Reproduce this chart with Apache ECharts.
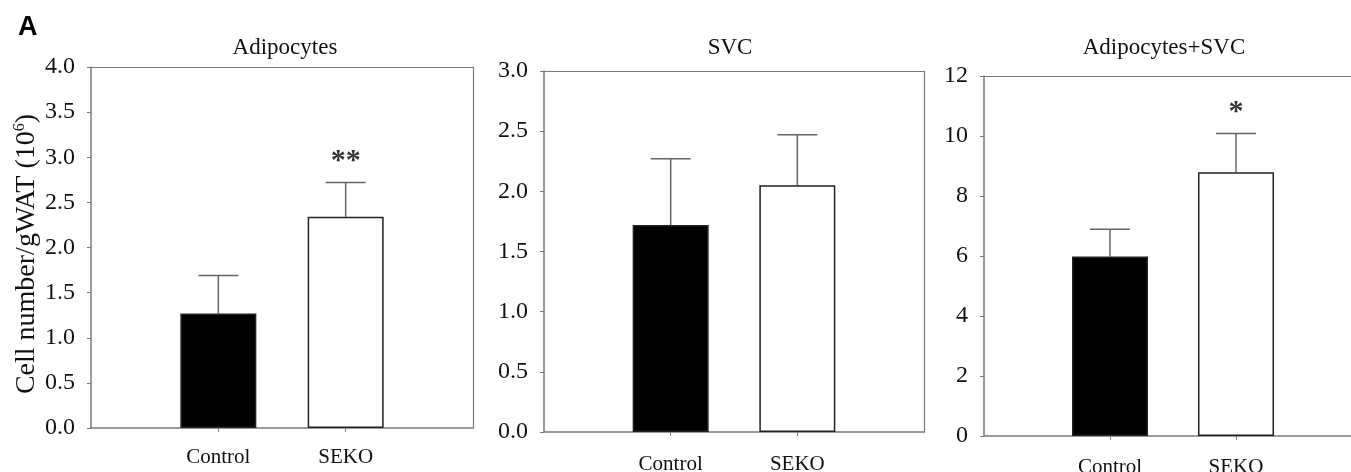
<!DOCTYPE html>
<html>
<head>
<meta charset="utf-8">
<script src="https://cdn.jsdelivr.net/npm/echarts@6/dist/echarts.min.js"></script>
<style>
  html, body { margin: 0; padding: 0; background: #fff; overflow: hidden; }
  #chart { width: 1351px; height: 472px; }
</style>
</head>
<body>
<div id="chart"></div>
<script>
// === ДАННЫЕ ===
const categories = ['Control', 'SEKO'];
const panelTitles = ['Adipocytes', 'SVC', 'Adipocytes+SVC'];

const adipoMeans = [1.27, 2.34];
const adipoErrors = [0.42, 0.38];
const svcMeans = [1.72, 2.05];
const svcErrors = [0.55, 0.42];
const totalMeans = [5.98, 8.79];
const totalErrors = [0.91, 1.29];

const adipoSig = ['', '**'];
const svcSig = ['', ''];
const totalSig = ['', '*'];

const yMaxes = [4, 3, 12];
const yIntervals = [0.5, 0.5, 2];
const yDecimals = [1, 1, 0];

// === ОФОРМЛЕНИЕ ===
const serif = 'Liberation Serif, Times New Roman, serif';
const axisColor = '#7a7a7a';
const barColors = ['#000000', '#ffffff'];
const grids = [
    { left: 91, top: 67, width: 382, height: 361 },
    { left: 544, top: 71, width: 380, height: 361 },
    { left: 984, top: 76, width: 378, height: 360 }
];
const titleShift = [-2, -9, -14];
const catMargins = [19, 22, 21];

const panels = [
    { means: adipoMeans, errors: adipoErrors, sig: adipoSig },
    { means: svcMeans, errors: svcErrors, sig: svcSig },
    { means: totalMeans, errors: totalErrors, sig: totalSig }
];

const chart = echarts.init(document.getElementById('chart'));

const borderLine = { show: true, onZero: false, lineStyle: { color: axisColor, width: 1.2 } };

const xAxes = [];
const yAxes = [];
grids.forEach((g, i) => {
    // Нижняя ось с категориями
    xAxes.push({
        type: 'value',
        gridIndex: i,
        min: 0,
        max: 3,
        interval: 1,
        splitLine: { show: false },
        axisLine: { onZero: false, lineStyle: { color: axisColor, width: 1.5 } },
        axisTick: { show: true, length: 4, customValues: [1, 2], lineStyle: { color: axisColor } },
        axisLabel: {
            customValues: [1, 2],
            margin: catMargins[i],
            fontFamily: serif,
            fontSize: 21,
            color: '#111',
            formatter: v => categories[v - 1]
        }
    });
    // Верхняя рамка
    xAxes.push({
        type: 'value',
        gridIndex: i,
        position: 'top',
        min: 0,
        max: 3,
        splitLine: { show: false },
        axisLine: borderLine,
        axisTick: { show: false },
        axisLabel: { show: false }
    });
    yAxes.push({
        type: 'value',
        gridIndex: i,
        min: 0,
        max: yMaxes[i],
        interval: yIntervals[i],
        splitLine: { show: false },
        axisLine: { show: true, onZero: false, lineStyle: { color: axisColor, width: 1.5 } },
        axisTick: { show: true, length: 4, lineStyle: { color: axisColor } },
        axisLabel: {
            margin: 16,
            fontFamily: serif,
            fontSize: 24,
            color: '#111',
            formatter: v => v.toFixed(yDecimals[i])
        }
    });
    // Правая рамка (у третьей панели она за краем рисунка)
    yAxes.push({
        type: 'value',
        gridIndex: i,
        position: 'right',
        min: 0,
        max: yMaxes[i],
        splitLine: { show: false },
        axisLine: i < 2 ? borderLine : { show: false },
        axisTick: { show: false },
        axisLabel: { show: false }
    });
});

const option = {
    animation: false,
    backgroundColor: '#fff',
    title: [{
        text: 'A',
        left: 13,
        top: 9,
        textStyle: { fontFamily: 'Liberation Sans, Arial, sans-serif', fontWeight: 'bold', fontSize: 27, color: '#000' }
    }].concat(panelTitles.map((t, i) => ({
        text: t,
        left: grids[i].left + grids[i].width / 2 + titleShift[i],
        top: 31,
        textAlign: 'center',
        textStyle: { fontFamily: serif, fontWeight: 'normal', fontSize: 23, color: '#111' }
    }))),
    // Подпись оси Y (с надстрочным индексом)
    graphic: [{
        type: 'text',
        x: 27,
        y: 254,
        rotation: Math.PI / 2,
        style: {
            text: '{a|Cell number/gWAT (10}{s|6}{a|)}',
            align: 'center',
            verticalAlign: 'middle',
            rich: {
                a: { fontFamily: serif, fontSize: 28, fill: '#111', lineHeight: 30 },
                s: { fontFamily: serif, fontSize: 16, fill: '#111', verticalAlign: 'top', lineHeight: 30 }
            }
        }
    }],
    grid: grids.map(g => Object.assign({ show: false, outerBoundsMode: 'none' }, g)),
    xAxis: xAxes,
    yAxis: yAxes,
    series: []
};

panels.forEach((p, i) => {
    // Столбцы
    option.series.push({
        type: 'bar',
        xAxisIndex: i * 2,
        yAxisIndex: i * 2,
        barWidth: 76,
        data: p.means.map((m, j) => ({
            value: [j + 1, m],
            itemStyle: { color: barColors[j], borderColor: '#222', borderWidth: 1.5 }
        }))
    });
    // Планки погрешностей (только вверх)
    option.series.push({
        type: 'custom',
        xAxisIndex: i * 2,
        yAxisIndex: i * 2,
        z: 1,
        data: p.means.map((m, j) => [j + 1, m, m + p.errors[j]]),
        renderItem: function (params, api) {
            const base = api.coord([api.value(0), api.value(1)]);
            const top = api.coord([api.value(0), api.value(2)]);
            const half = 20;
            const style = { stroke: '#666', lineWidth: 1.5 };
            return {
                type: 'group',
                children: [
                    { type: 'line', shape: { x1: base[0], y1: base[1], x2: top[0], y2: top[1] }, style: style },
                    { type: 'line', shape: { x1: top[0] - half, y1: top[1], x2: top[0] + half, y2: top[1] }, style: style }
                ]
            };
        }
    });
    // Звёздочки значимости
    option.series.push({
        type: 'scatter',
        xAxisIndex: i * 2,
        yAxisIndex: i * 2,
        symbolSize: 0,
        silent: true,
        data: p.means.map((m, j) => ({ value: [j + 1, m + p.errors[j]], sig: p.sig[j] })),
        label: {
            show: true,
            position: 'top',
            distance: 6,
            fontFamily: serif,
            fontSize: 30,
            fontWeight: 'bold',
            color: '#000',
            formatter: params => params.data.sig
        }
    });
});

chart.setOption(option);
window.addEventListener('resize', function () { chart.resize(); });
</script>
</body>
</html>
